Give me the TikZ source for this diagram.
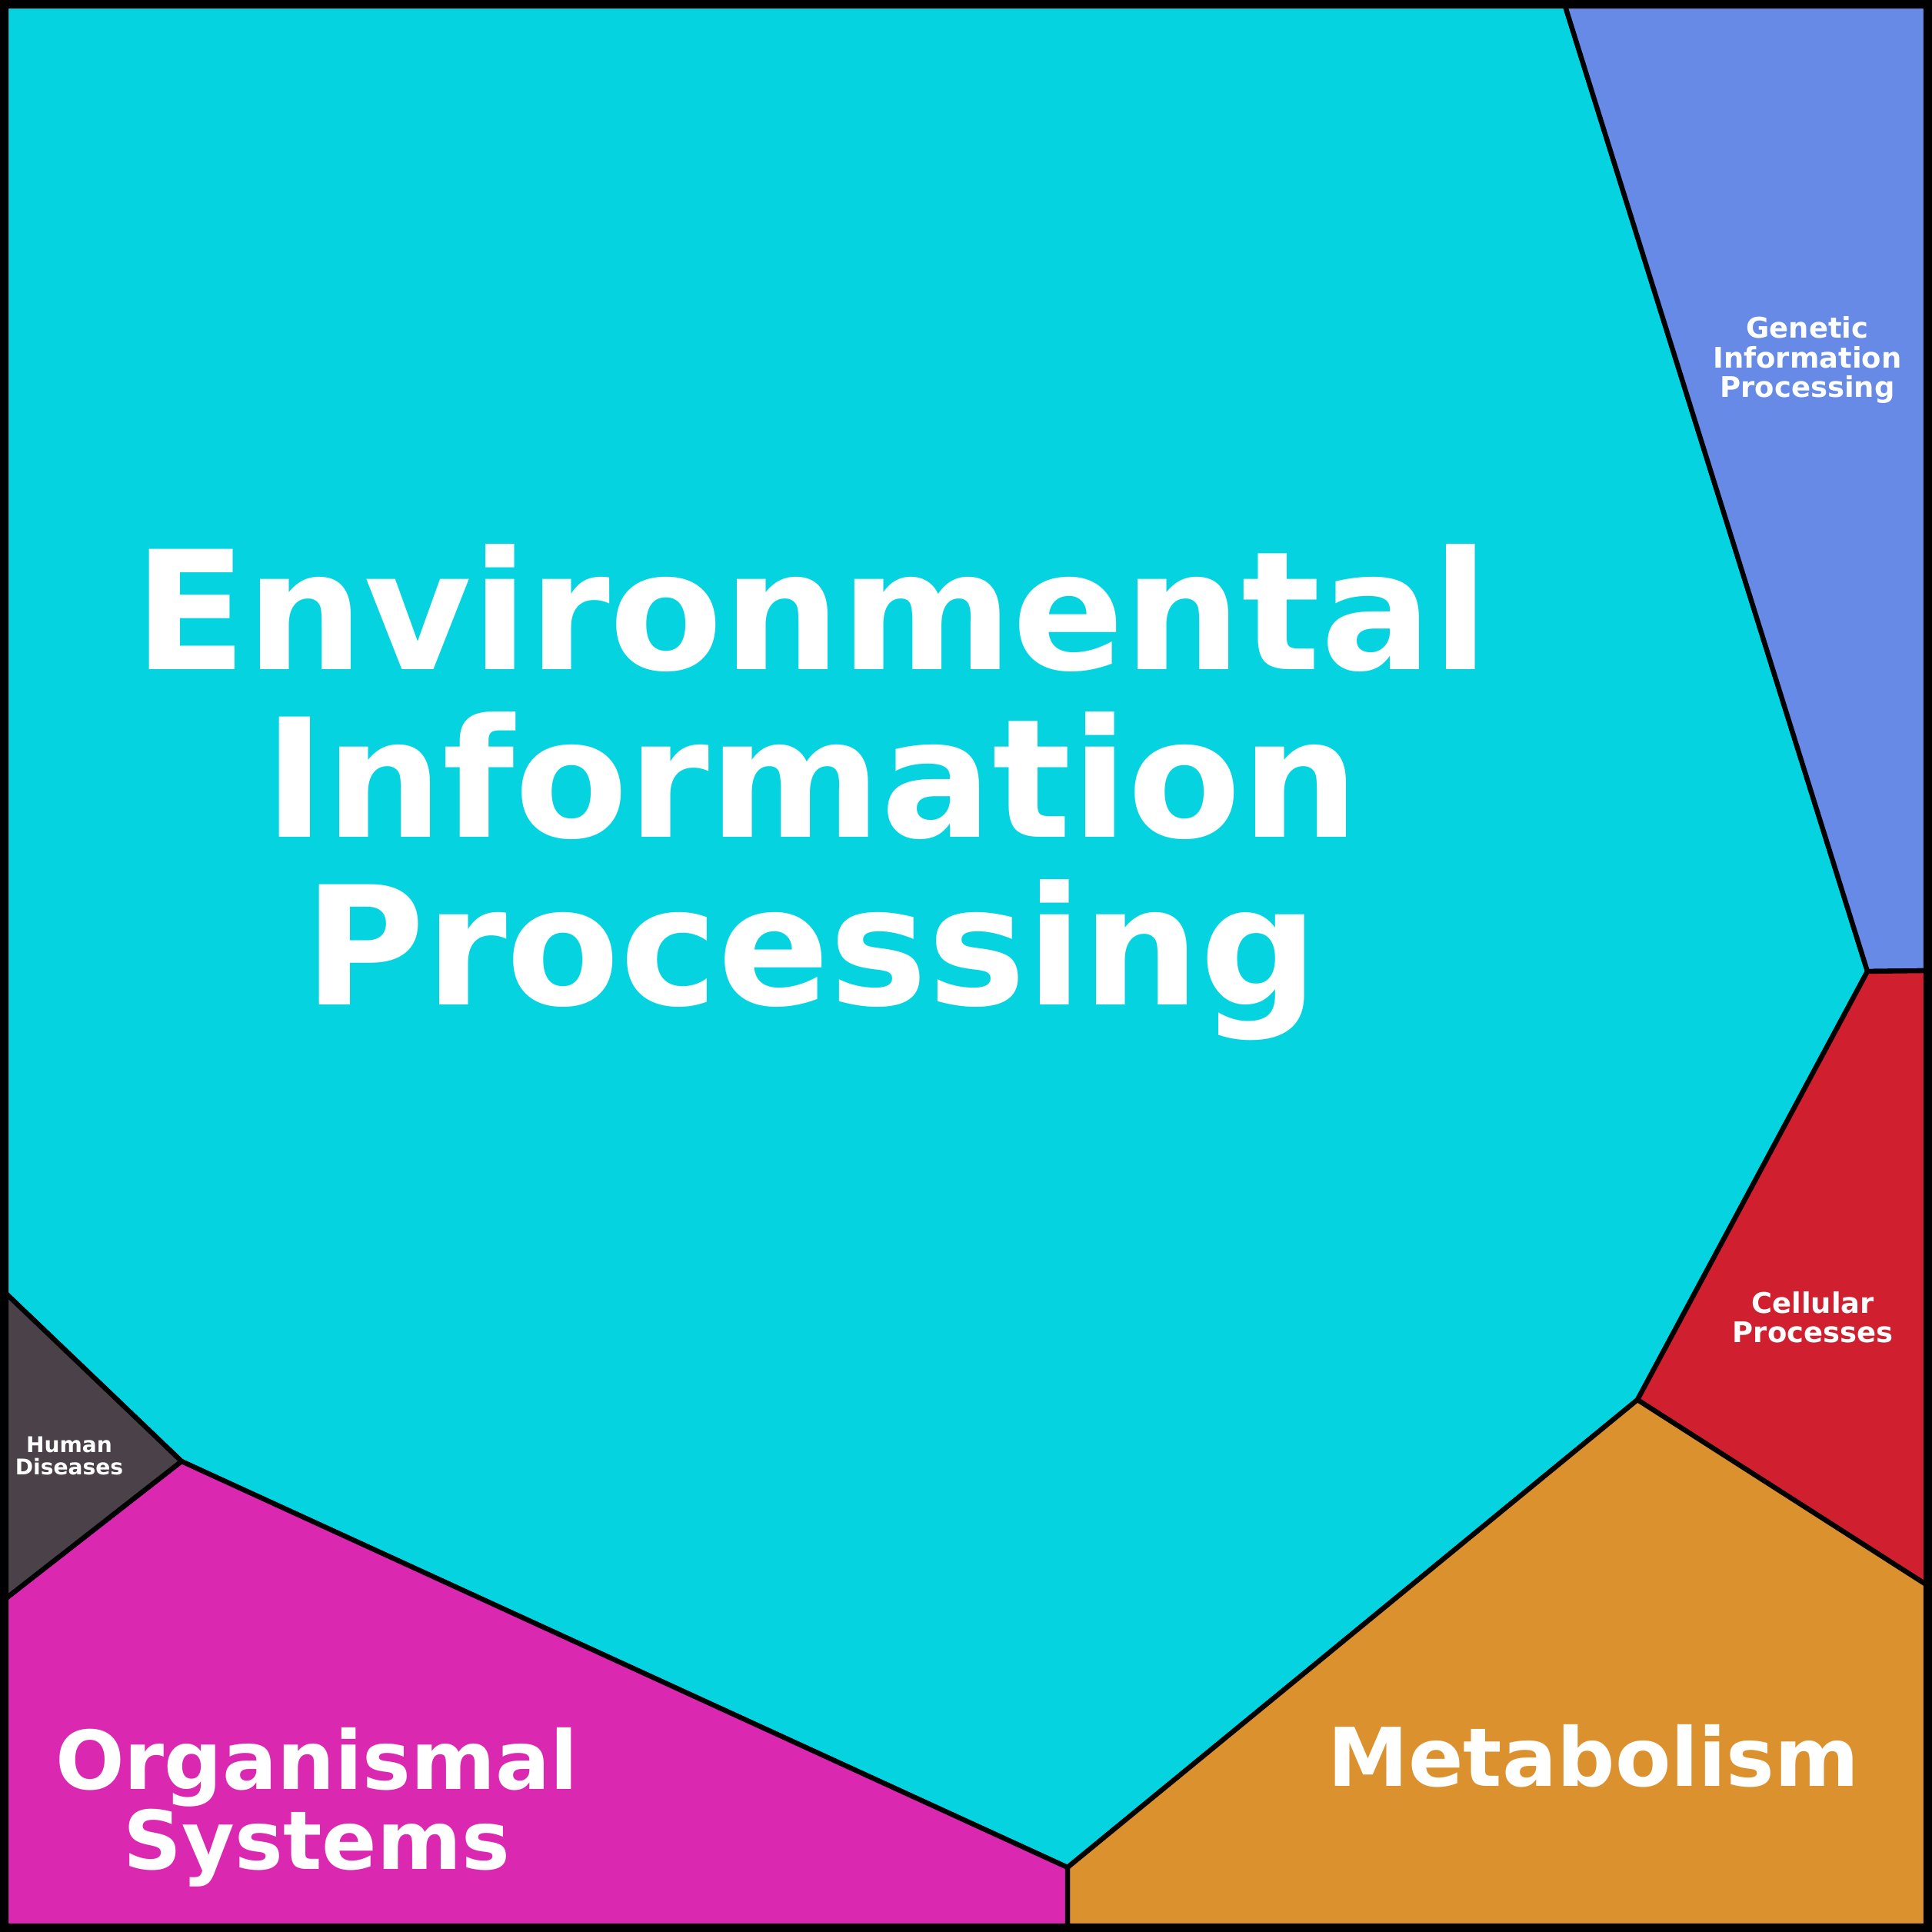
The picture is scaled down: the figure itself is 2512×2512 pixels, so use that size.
\documentclass[tikz,border=0pt]{standalone}
\usepackage{fontspec}
\setmainfont{DejaVu Sans}
\begin{document}
\begin{tikzpicture}[x=0.01cm,y=-0.01cm,
  reg/.style={draw=black,line width=1.8pt,line join=round},
  lab/.style={text=white,align=center,font=\bfseries}]
\useasboundingbox (0,0) rectangle (2512,2512);
\definecolor{cenv}{HTML}{06D3E0}
\definecolor{cgen}{HTML}{668AE6}
\definecolor{ccel}{HTML}{D02030}
\definecolor{cmet}{HTML}{DC912F}
\definecolor{corg}{HTML}{DB28B0}
\definecolor{chum}{HTML}{4B4148}
\fill[cenv] (0,0) rectangle (2512,2512);
\draw[reg,fill=cenv] (8,8) -- (2035,8) -- (2428,1263) -- (2129,1820) -- (1388,2428) -- (236,1900) -- (8,1682) -- cycle;
\draw[reg,fill=cgen] (2035,8) -- (2504,8) -- (2504,1262) -- (2428,1263) -- cycle;
\draw[reg,fill=ccel] (2428,1263) -- (2504,1262) -- (2504,2060) -- (2129,1820) -- cycle;
\draw[reg,fill=cmet] (2129,1820) -- (2504,2060) -- (2504,2504) -- (1388,2504) -- (1388,2428) -- cycle;
\draw[reg,fill=corg] (8,2078) -- (236,1900) -- (1388,2428) -- (1388,2504) -- (8,2504) -- cycle;
\draw[reg,fill=chum] (8,1682) -- (236,1900) -- (8,2078) -- cycle;
\draw[line width=3pt] (4,4) rectangle (2508,2508);
\node[lab,font=\bfseries\fontsize{61}{62}\selectfont] (env) at (1055,1030) {Environmental\\Information\\Processing};
\node[lab,font=\bfseries\fontsize{10.5}{10.9}\selectfont] (gen) at (2350,468) {Genetic\\Information\\Processing};
\node[lab,font=\bfseries\fontsize{10.5}{10.9}\selectfont] (cel) at (2357,1713) {Cellular\\Processes};
\node[lab,font=\bfseries\fontsize{8}{8.2}\selectfont] (hum) at (90,1893) {Human\\Diseases};
\node[lab,font=\bfseries\fontsize{30}{30}\selectfont] (met) at (2072,2283) {Metabolism};
\node[lab,font=\bfseries\fontsize{30}{29.6}\selectfont] (org) at (412,2350) {Organismal\\Systems};
\end{tikzpicture}
\end{document}
